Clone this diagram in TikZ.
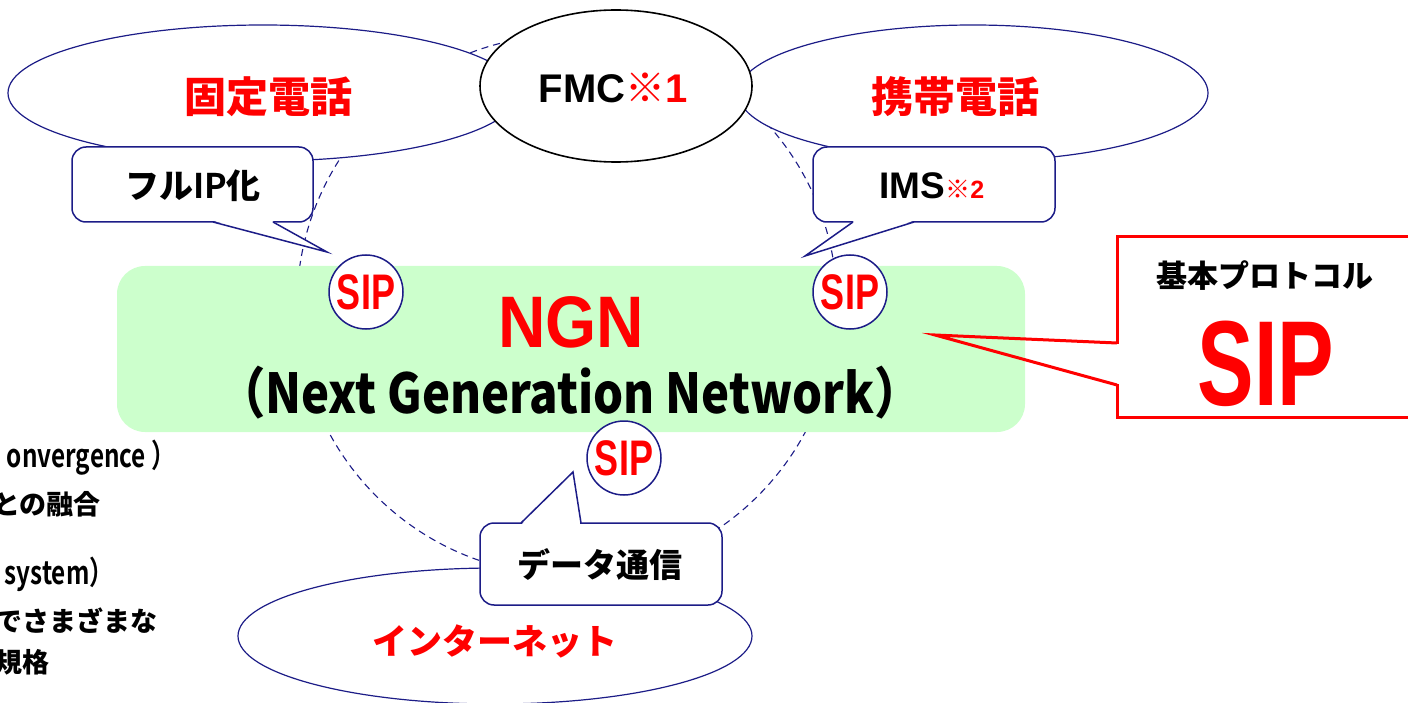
\documentclass[tikz,border=0pt]{standalone}
\usepackage{fontspec}
\usepackage{graphicx}
\setmainfont{Liberation Sans}
\IfFontExistsTF{Noto Sans CJK JP Black}{\newfontfamily\jp{Noto Sans CJK JP Black}}{\newfontfamily\jp{Noto Sans CJK JP Bold}}
\newfontfamily\jpb{Noto Sans CJK JP Bold}
\usetikzlibrary{shapes.geometric}
\definecolor{navy}{RGB}{28,28,135}
\definecolor{ngngreen}{RGB}{204,255,204}
\definecolor{myred}{RGB}{255,0,0}
\newcommand{\fs}[1]{\fontsize{#1}{#1}\selectfont}
\begin{document}
\begin{tikzpicture}[x=1pt,y=-1pt,
  bubble/.style={ellipse, draw=navy, line width=1.2pt, fill=white, inner sep=0pt},
  sipc/.style={circle, draw=navy, line width=1.5pt, fill=white, minimum size=74pt, inner sep=0pt, text=myred, font=\bfseries\fs{50}},
  callbox/.style={draw=navy, line width=1.5pt, fill=white, rounded corners=14pt, inner sep=0pt},
  tailline/.style={draw=navy, line width=1.5pt, line join=miter},
  lbl/.style={inner sep=0pt},
  redjp/.style={inner sep=0pt, text=myred, font=\jp\fs{42}},
  blackjp/.style={inner sep=0pt, font=\jp\fs{33}},
  side/.style={inner sep=0pt, anchor=east, font=\jp\fs{27}},
]
\useasboundingbox (0,0) rectangle (1408,703);
\clip (0,0) rectangle (1408,703);

% dashed ring
\node[circle, draw=navy, line width=1.1pt, dash pattern=on 7pt off 5pt, minimum size=540pt, inner sep=0pt] (ring) at (567,305) {};

% top ellipses
\node[bubble, minimum width=510pt, minimum height=136pt] (fixed) at (263,93) {};
\node[bubble, minimum width=470pt, minimum height=136pt] (mobile) at (973,93) {};
\node[ellipse, draw=black, line width=1.6pt, fill=white, minimum width=272pt, minimum height=152pt, inner sep=0pt] (fmc) at (616,86) {};
\node[redjp] (fixedt) at (268,97) {固定電話};
\node[redjp] (mobilet) at (955,97) {携帯電話};
\node[lbl, font=\bfseries\fs{40}] (fmct) at (613,88) {FMC\textcolor{myred}{{\jp ※}1}};

% bottom ellipse
\node[bubble, minimum width=514pt, minimum height=136pt] (inet) at (495,636) {};
\node[redjp, font=\jp\fs{35}] (inett) at (495,641) {インターネット};

% NGN box
\node[fill=ngngreen, rounded corners=28pt, minimum width=908pt, minimum height=166pt, inner sep=0pt] (ngn) at (571,349) {};
\node[lbl, text=myred, font=\bfseries\fs{73}] (ngnt) at (571,322) {\scalebox{0.9}[1]{NGN}};
\node[lbl, font=\jp\fs{55}] (ngnsub) at (570,393) {\scalebox{0.86}[1]{（Next Generation Network）}};

% callout: full IP
\node[callbox, minimum width=241pt, minimum height=75pt] (fullip) at (192.5,184.5) {};
\node[blackjp, font=\jp\fs{34}] (fulliptext) at (193,186) {フル{\bfseries IP}化};
\coordinate (tip1) at (327,252);
\fill[white] (214,221) -- (tip1) -- (272,221) -- cycle;
\draw[tailline] (213,222) -- (tip1) -- (273,222);

% callout: IMS
\node[callbox, minimum width=242pt, minimum height=75pt] (ims) at (934,184.5) {};
\node[lbl, font=\bfseries\fs{37}] (imstext) at (932,186) {IMS\textcolor{myred}{\fs{25}{\jp ※}2}};
\coordinate (tip2) at (805,256);
\fill[white] (854,221) -- (tip2) -- (913,221) -- cycle;
\draw[tailline] (853,222) -- (tip2) -- (914,222);

% callout: data
\node[callbox, minimum width=242pt, minimum height=82pt] (data) at (601,564) {};
\node[blackjp] (datatext) at (600,565) {データ通信};
\coordinate (tip3) at (573,472);
\fill[white] (522,524) -- (tip3) -- (580,524) -- cycle;
\draw[tailline] (521,523) -- (tip3) -- (581,523);

% SIP circles
\node[sipc] (sip1) at (366,292) {\scalebox{0.72}[1]{SIP}};
\node[sipc] (sip2) at (850,292) {\scalebox{0.72}[1]{SIP}};
\node[sipc] (sip3) at (624,458) {\scalebox{0.72}[1]{SIP}};

% red callout
\node[draw=myred, line width=3pt, minimum width=303pt, minimum height=180pt, inner sep=0pt] (proto) at (1268.5,327) {};
\coordinate (tip4) at (935,335);
\fill[white] (1119,344) -- (1119,384) -- (1112,384) -- (1112,344) -- cycle;
\draw[myred, line width=3pt, line join=miter] (1117,343) -- (tip4) -- (1117,385);
\node[lbl, font=\jp\fs{31}] (protot) at (1265,276) {基本プロトコル};
\node[lbl, text=myred, font=\bfseries\fs{121}] (bigsip) at (1266,364) {\scalebox{0.7}[1]{SIP}};

% cut-off side notes
\node[side, font=\jpb\fs{32}] (n1) at (176,458) {\scalebox{0.76}[1]{onvergence ）}};
\node[side] (n2) at (101,504) {との融合};
\node[side, font=\jpb\fs{32}] (n3) at (114,574) {\scalebox{0.76}[1]{system）}};
\node[side] (n4) at (158,621) {でさまざまな};
\node[side] (n5) at (50,662) {規格};
\end{tikzpicture}
\end{document}
